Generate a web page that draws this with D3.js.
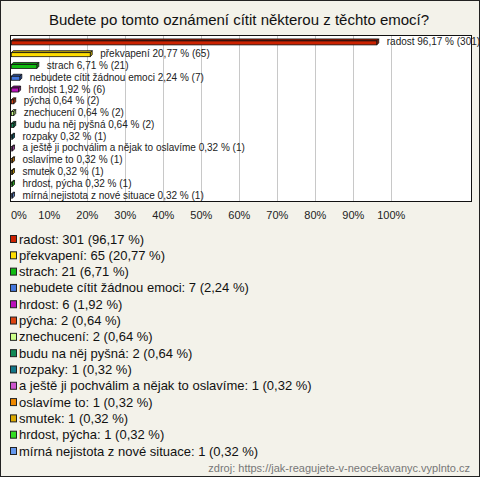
<!DOCTYPE html>
<html><head><meta charset="utf-8">
<script src="https://cdn.jsdelivr.net/npm/d3@7"></script>
<style>
html,body{margin:0;padding:0;background:#f3f2ea;}
svg{display:block;font-family:"Liberation Sans",Arial,sans-serif;}
</style></head>
<body>
<svg id="c" width="480" height="477"></svg>
<script>
const title = "Budete po tomto oznámení cítit některou z těchto emocí?";
const categories = ["radost","překvapení","strach","nebudete cítit žádnou emoci","hrdost","pýcha","znechucení","budu na něj pyšná","rozpaky","a ještě ji pochválim a nějak to oslavíme","oslavíme to","smutek","hrdost, pýcha","mírná nejistota z nové situace"];
const counts = [301,65,21,7,6,2,2,2,1,1,1,1,1,1];
const percents = [96.17,20.77,6.71,2.24,1.92,0.64,0.64,0.64,0.32,0.32,0.32,0.32,0.32,0.32];
const colors = ["#cc2200","#ffdd00","#11bb11","#4477dd","#bb11bb","#dd4411","#ccff88","#118855","#117788","#cc55cc","#ee8800","#ddaa00","#33dd22","#6699ee"];
const ticks = [0,10,20,30,40,50,60,70,80,90,100];
const tickLabels = ["0%","10%","20%","30%","40%","50%","60%","70%","80%","90%","100%"];
const source = "zdroj: https://jak-reagujete-v-neocekavanyc.vyplnto.cz";

const fmt = v => v.toFixed(2).replace(".", ",");
const svg = d3.select("#c");
const W = 480, H = 477;

svg.append("rect").attr("x",0.5).attr("y",0.5).attr("width",W-1).attr("height",H-1)
  .attr("fill","#f3f2ea").attr("stroke","#222");

svg.append("text").attr("x",239).attr("y",25).attr("text-anchor","middle")
  .attr("font-size",15).attr("fill","#111").text(title);

const plot = {l:10.5, t:35.5, r:471.5, b:201.5};
const x = d3.scaleLinear().domain([0,100]).range([11.3, 391.3]);
const y = d3.scaleBand().domain(categories).range([36, 201]);

svg.append("rect").attr("x",plot.l).attr("y",plot.t).attr("width",plot.r-plot.l).attr("height",plot.b-plot.t)
  .attr("fill","#fff").attr("stroke","none");

svg.append("g").selectAll("line").data(ticks.slice(1)).join("line")
  .attr("x1",d=>Math.round(x(d))+0.5).attr("x2",d=>Math.round(x(d))+0.5)
  .attr("y1",plot.t).attr("y2",plot.b).attr("stroke","#c8c8c8");

svg.append("rect").attr("x",plot.l).attr("y",plot.t).attr("width",plot.r-plot.l).attr("height",plot.b-plot.t)
  .attr("fill","none").attr("stroke","#111");

// tick labels
svg.append("g").selectAll("text").data(ticks).join("text")
  .attr("x",(d,i)=> i===0 ? 11 : x(d))
  .attr("y",219)
  .attr("text-anchor",(d,i)=> i===0 ? "start" : "middle")
  .attr("font-size",11).attr("fill","#222")
  .text((d,i)=>tickLabels[i]);

// 3D bars
const d3depth = 2;
const bars = svg.append("g");
categories.forEach((c,i)=>{
  const cy = y(c) + y.bandwidth()/2;
  const x0 = x(0), x1 = x(percents[i]);
  const col = d3.color(colors[i]);
  const dark = col.darker(0.8).formatHex();
  const top = cy - 1, h = 4;
  // top face
  bars.append("path")
    .attr("d",`M${x0},${top} L${x0+d3depth},${top-d3depth} L${x1+d3depth},${top-d3depth} L${x1},${top} Z`)
    .attr("fill",dark).attr("stroke","#111").attr("stroke-width",0.8).attr("stroke-linejoin","round");
  // side face
  bars.append("path")
    .attr("d",`M${x1},${top} L${x1+d3depth},${top-d3depth} L${x1+d3depth},${top+h-d3depth} L${x1},${top+h} Z`)
    .attr("fill",dark).attr("stroke","#111").attr("stroke-width",0.8).attr("stroke-linejoin","round");
  // front face
  bars.append("rect").attr("x",x0).attr("y",top).attr("width",Math.max(0.1,x1-x0)).attr("height",h)
    .attr("fill",colors[i]).attr("stroke","#111").attr("stroke-width",0.8);
  bars.append("text").attr("x",x1+d3depth+8).attr("y",cy+3.5)
    .attr("font-size",10).attr("fill","#222")
    .text(`${c} ${fmt(percents[i])} % (${counts[i]})`);
});

// legend
const lg = svg.append("g");
const ly = d3.scaleLinear().domain([0,13]).range([239, 451]);
categories.forEach((c,i)=>{
  const cy = ly(i);
  lg.append("rect").attr("x",10.5).attr("y",cy-3.5).attr("width",6).attr("height",7)
    .attr("fill",colors[i]).attr("stroke","#222");
  lg.append("text").attr("x",19).attr("y",cy+4.5).attr("font-size",13).attr("fill","#111")
    .text(`${c}: ${counts[i]} (${fmt(percents[i])} %)`);
});

svg.append("text").attr("x",470).attr("y",472).attr("text-anchor","end")
  .attr("font-size",11).attr("fill","#777").text(source);
</script>
</body></html>
